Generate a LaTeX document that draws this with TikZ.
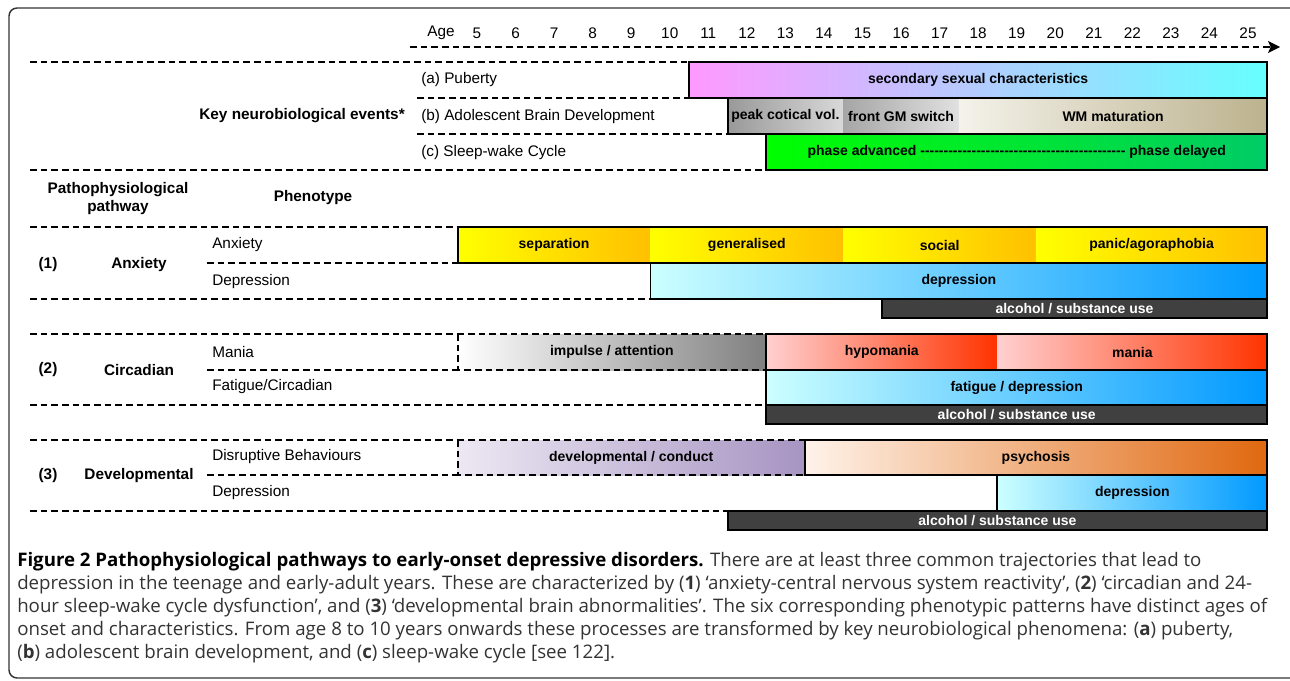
\documentclass[tikz,border=0pt]{standalone}
\usepackage{fontspec}
\setmainfont{Liberation Sans}
\newfontfamily\capfont{Open Sans}
\usetikzlibrary{arrows.meta}
% bar colours
\definecolor{pubpink}{HTML}{FF99FF}
\definecolor{pubcyan}{HTML}{66FFFF}
\definecolor{anxyel}{HTML}{FFFF00}
\definecolor{anxorg}{HTML}{FFC000}
\definecolor{deplight}{HTML}{CCFFFF}
\definecolor{depblue}{HTML}{0099FF}
\definecolor{manpink}{HTML}{FFD0D0}
\definecolor{manred}{HTML}{FF3300}
\definecolor{sleepA}{HTML}{00FF00}
\definecolor{sleepB}{HTML}{00CC66}
\definecolor{wmlight}{HTML}{F4F2EA}
\definecolor{wmtan}{HTML}{BCB28E}
\definecolor{devlight}{HTML}{ECE8F3}
\definecolor{devdark}{HTML}{A794C2}
\definecolor{psylight}{HTML}{FFF3EA}
\definecolor{psydark}{HTML}{E0680F}
\definecolor{alcgray}{HTML}{404040}
\definecolor{capgray}{HTML}{333333}
\tikzset{
    sep line/.style={dash pattern=on 5pt off 3pt, line width=0.9pt},
    bar frame/.style={draw=black, line width=1.4pt},
    txt/.style={inner sep=0, font=\fontsize{11.5}{13.5}\selectfont},
    head/.style={txt, font=\bfseries\fontsize{11.5}{13.5}\selectfont},
    barlab/.style={inner sep=0, font=\bfseries\fontsize{10.5}{12}\selectfont},
    alclab/.style={barlab, text=white}
}
% one gradient piece of a bar: from age, to age, top, bottom, colours
\newcommand\agefill[6]{%
    \path[left color=#5, right color=#6] ({ax(#1)},#3) rectangle ({ax(#2)},#4);}
% frame round a bar
\newcommand\ageframe[5][]{%
    \draw[bar frame,#1] ({ax(#2)},#4) rectangle ({ax(#3)},#5);}
\newcommand\alcbar[3]{%
    \draw[bar frame, fill=alcgray] ({ax(#1)},#2) rectangle ({ax(25.5)},#3);}

\begin{document}
\begin{tikzpicture}[x=0.75pt, y=-0.75pt,
    declare function={ax(\a)=477+(\a-5)*38.55;}]
    % Init
    \useasboundingbox (0,0) rectangle (1290,681);
    \draw[capgray, line width=1.1pt, rounded corners=6pt]
        (1292,8) -- (9,8) -- (9,678) -- (1292,678);

    % 1. age axis
    \node[txt] (age) at (441,33) {Age};
    \foreach \a in {5,...,25}
        \node[txt] (age\a) at ({ax(\a)},33) {\a};
    \coordinate (axis start) at (410,47);
    \coordinate (axis end) at (1280,47);
    \draw[sep line, -{Stealth[length=9pt, width=9pt, inset=2pt]}] (axis start) -- (axis end);

    % 2. separators
    \foreach \y/\xa/\xb in {62/30/10.5, 98/417/11.5, 134/417/12.5, 170/30/12.5,
        227/30/4.5, 263/207/4.5, 299/30/9.5,
        334/30/4.5, 370/207/4.5, 405/30/12.5,
        440/30/4.5, 475/207/4.5, 511/30/11.5}
        \draw[sep line] (\xa,\y) -- ({ax(\xb)},\y);

    % 3. key neurobiological events
    \agefill{10.5}{25.5}{62}{98}{pubpink}{pubcyan}
    \ageframe{10.5}{25.5}{62}{98}
    \agefill{11.5}{14.5}{98}{134}{black!40}{black!15}
    \agefill{14.5}{17.5}{98}{134}{black!35}{black!12}
    \agefill{17.5}{25.5}{98}{134}{wmlight}{wmtan}
    \ageframe{11.5}{25.5}{98}{134}
    \agefill{12.5}{25.5}{134}{170}{sleepA}{sleepB}
    \ageframe{12.5}{25.5}{134}{170}
    \node[barlab] (puberty) at ({ax(18)},80) {secondary sexual characteristics};
    \node[barlab] (peak) at ({ax(13)},116) {peak cotical vol.};
    \node[barlab] (gm) at ({ax(16)},116) {front GM switch};
    \node[barlab] (wm) at ({ax(21.5)},116) {WM maturation};
    \node[barlab] (sleep) at ({ax(19)},152)
        {phase advanced \foreach \i in {1,...,44}{-{}} phase delayed};

    \node[head, anchor=east] (key) at (405,116) {Key neurobiological events*};
    \node[txt, anchor=west] (pub) at (421,80) {(a) Puberty};
    \node[txt, anchor=west] (brain) at (421,117) {(b) Adolescent Brain Development};
    \node[txt, anchor=west] (cycle) at (421,153) {(c) Sleep-wake Cycle};

    % 4. headers
    \node[head, align=center] (pathway) at (118,199) {Pathophysiological\\pathway};
    \node[head] (phenotype) at (313,198) {Phenotype};

    % 5. pathway (1) anxiety
    \agefill{4.5}{9.5}{227}{263}{anxyel}{anxorg}
    \agefill{9.5}{14.5}{227}{263}{anxyel}{anxorg}
    \agefill{14.5}{19.5}{227}{263}{anxyel}{anxorg}
    \agefill{19.5}{25.5}{227}{263}{anxyel}{anxorg}
    \ageframe{4.5}{25.5}{227}{263}
    \agefill{9.5}{25.5}{263}{299}{deplight}{depblue}
    \ageframe{9.5}{25.5}{263}{299}
    \alcbar{15.5}{299}{318}
    \node[barlab] (separation) at ({ax(7)},245) {separation};
    \node[barlab] (generalised) at ({ax(12)},245) {generalised};
    \node[barlab] (social) at ({ax(17)},245) {social};
    \node[barlab] (panic) at ({ax(22.5)},245) {panic/agoraphobia};
    \node[barlab] (dep1) at ({ax(17.5)},281) {depression};
    \node[alclab] (alc1) at ({ax(20.5)},308.5) {alcohol / substance use};

    \node[head] (n1) at (48,265) {(1)};
    \node[head] (anxiety) at (139,265) {Anxiety};
    \node[txt, anchor=west] (ph1a) at (212,245) {Anxiety};
    \node[txt, anchor=west] (ph1b) at (212,282) {Depression};

    % 6. pathway (2) circadian
    \agefill{4.5}{12.5}{334}{370}{white}{black!50}
    \ageframe[sep line, line width=1.2pt]{4.5}{12.5}{334}{370}
    \agefill{12.5}{18.5}{334}{370}{manpink}{manred}
    \agefill{18.5}{25.5}{334}{370}{manpink}{manred}
    \ageframe{12.5}{25.5}{334}{370}
    \agefill{12.5}{25.5}{370}{405}{deplight}{depblue}
    \ageframe{12.5}{25.5}{370}{405}
    \alcbar{12.5}{405}{424}
    \node[barlab] (impulse) at ({ax(8.5)},352) {impulse / attention};
    \node[barlab] (hypomania) at ({ax(15.5)},352) {hypomania};
    \node[barlab] (mania) at ({ax(22)},352) {mania};
    \node[barlab] (fatigue) at ({ax(19)},387.5) {fatigue / depression};
    \node[alclab] (alc2) at ({ax(19)},414.5) {alcohol / substance use};

    \node[head] (n2) at (48,370) {(2)};
    \node[head] (circadian) at (139,370) {Circadian};
    \node[txt, anchor=west] (ph2a) at (212,352) {Mania};
    \node[txt, anchor=west] (ph2b) at (212,387) {Fatigue/Circadian};

    % 7. pathway (3) developmental
    \agefill{4.5}{13.5}{440}{475}{devlight}{devdark}
    \ageframe[sep line, line width=1.2pt]{4.5}{13.5}{440}{475}
    \agefill{13.5}{25.5}{440}{475}{psylight}{psydark}
    \ageframe{13.5}{25.5}{440}{475}
    \agefill{18.5}{25.5}{475}{511}{deplight}{depblue}
    \ageframe{18.5}{25.5}{475}{511}
    \alcbar{11.5}{511}{530}
    \node[barlab] (conduct) at ({ax(9)},457.5) {developmental / conduct};
    \node[barlab] (psychosis) at ({ax(19.5)},457.5) {psychosis};
    \node[barlab] (dep3) at ({ax(22)},493) {depression};
    \node[alclab] (alc3) at ({ax(18.5)},520.5) {alcohol / substance use};

    \node[head] (n3) at (48,476) {(3)};
    \node[head] (developmental) at (139,476) {Developmental};
    \node[txt, anchor=west] (ph3a) at (212,457) {Disruptive Behaviours};
    \node[txt, anchor=west] (ph3b) at (212,493) {Depression};

    % 8. caption
    \node[anchor=north west, inner sep=0, align=left, text=capgray,
        font=\capfont\fontsize{14}{17.25}\selectfont] (caption) at (17,552)
        {\textbf{\color{black}Figure 2 Pathophysiological pathways to early-onset depressive disorders.} There are at least three common trajectories that lead to\\
        depression in the teenage and early-adult years. These are characterized by (\textbf{1}) ‘anxiety-central nervous system reactivity’, (\textbf{2}) ‘circadian and 24-\\
        hour sleep-wake cycle dysfunction’, and (\textbf{3}) ‘developmental brain abnormalities’. The six corresponding phenotypic patterns have distinct ages of\\
        onset and characteristics. From age 8 to 10 years onwards these processes are transformed by key neurobiological phenomena: (\textbf{a}) puberty,\\
        (\textbf{b}) adolescent brain development, and (\textbf{c}) sleep-wake cycle [see 122].};
\end{tikzpicture}
\end{document}
